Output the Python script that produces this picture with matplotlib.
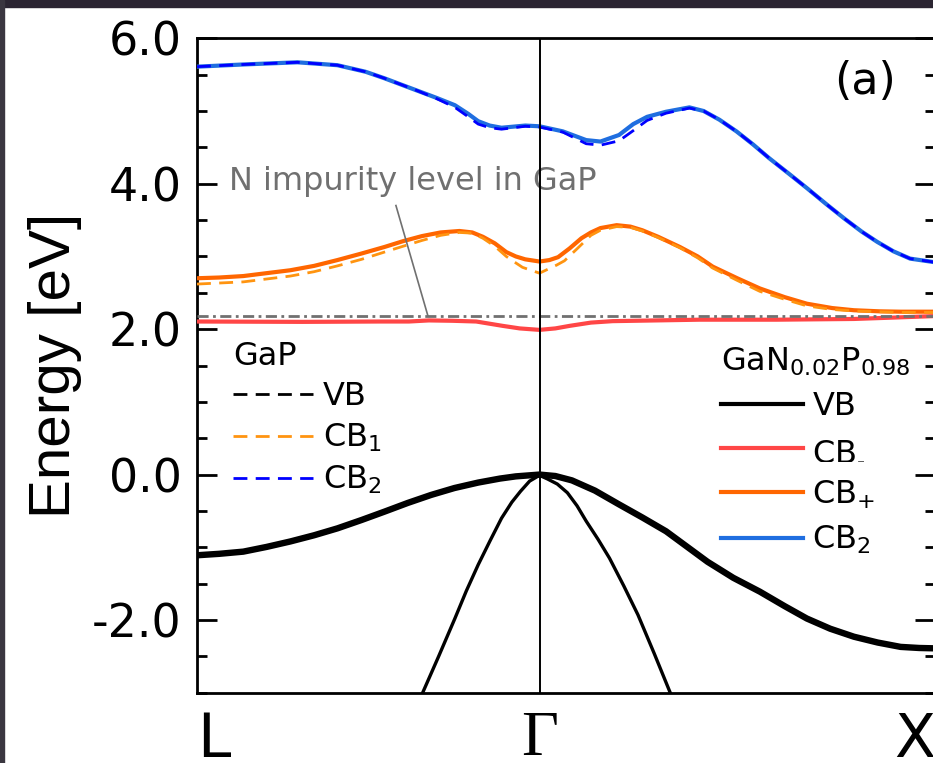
import matplotlib
matplotlib.use('Agg')
import matplotlib.pyplot as plt
from matplotlib.lines import Line2D
from matplotlib.patches import Rectangle
from matplotlib.ticker import MultipleLocator

plt.rcParams['font.family'] = ['DejaVu Sans']
plt.rcParams['axes.unicode_minus'] = False
plt.rcParams['mathtext.fontset'] = 'dejavusans'

# ---------------- data ----------------
kpoint_pos = [-0.866, 0.0, 1.0]
kpoint_labels = ['L', 'Γ', 'X']

yticks = [-2, 0, 2, 4, 6]
ytick_labels = ['-2.0', '0.0', '2.0', '4.0', '6.0']

# GaN0.02P0.98 bands (solid)
k_vb = [-0.866, -0.810, -0.749, -0.690, -0.630, -0.570, -0.511, -0.450, -0.392, -0.333,
        -0.274, -0.215, -0.155, -0.100, -0.060, 0.0,
        0.040, 0.082, 0.140, 0.201, 0.260, 0.320, 0.370, 0.425, 0.490, 0.557,
        0.620, 0.676, 0.735, 0.795, 0.855, 0.913, 0.960, 1.0]
e_vb = [-1.11, -1.09, -1.06, -0.995, -0.92, -0.835, -0.74, -0.625, -0.51, -0.39,
        -0.28, -0.185, -0.11, -0.055, -0.025, 0.0,
        -0.02, -0.08, -0.22, -0.41, -0.59, -0.78, -0.98, -1.20, -1.42, -1.61,
        -1.81, -1.98, -2.12, -2.23, -2.31, -2.37, -2.385, -2.39]

k_vb2 = [-0.297, -0.255, -0.214, -0.185, -0.155, -0.125, -0.096, -0.070, -0.048, -0.025, 0.0,
         0.020, 0.045, 0.0705, 0.095, 0.118, 0.148, 0.177, 0.213, 0.249, 0.290, 0.332]
e_vb2 = [-3.02, -2.50, -1.98, -1.60, -1.24, -0.91, -0.60, -0.38, -0.23, -0.09, -0.01,
         -0.06, -0.13, -0.25, -0.43, -0.64, -0.89, -1.15, -1.53, -1.93, -2.46, -3.02]

k_cbm = [-0.866, -0.600, -0.400, -0.330, -0.280, -0.220, -0.160, -0.093, -0.050, 0.0,
         0.040, 0.076, 0.130, 0.185, 0.405, 0.600, 0.795, 0.900, 1.0]
e_cbm = [2.105, 2.10, 2.105, 2.105, 2.12, 2.115, 2.105, 2.045, 2.01, 1.99,
         2.01, 2.045, 2.09, 2.11, 2.13, 2.13, 2.14, 2.16, 2.18]

k_cbp = [-0.866, -0.810, -0.749, -0.690, -0.630, -0.570, -0.511, -0.450, -0.392, -0.345,
         -0.297, -0.250, -0.2025, -0.170, -0.143, -0.113, -0.084, -0.060, -0.036, 0.0,
         0.025, 0.047, 0.076, 0.106, 0.130, 0.154, 0.195, 0.230, 0.260, 0.300,
         0.355, 0.400, 0.438, 0.500, 0.557, 0.620, 0.676, 0.740, 0.795, 0.860, 0.913, 1.0]
e_cbp = [2.70, 2.71, 2.73, 2.77, 2.81, 2.87, 2.95, 3.04, 3.13, 3.21,
         3.28, 3.33, 3.35, 3.33, 3.27, 3.18, 3.06, 3.00, 2.96, 2.93,
         2.95, 2.99, 3.11, 3.25, 3.33, 3.39, 3.43, 3.41, 3.36, 3.27,
         3.13, 3.00, 2.86, 2.70, 2.56, 2.44, 2.35, 2.29, 2.26, 2.245, 2.24, 2.24]

k_cb2 = [-0.866, -0.749, -0.612, -0.511, -0.440, -0.392, -0.309, -0.260, -0.214, -0.180,
         -0.155, -0.126, -0.096, -0.036, 0.0, 0.059, 0.118, 0.154, 0.201, 0.237,
         0.272, 0.320, 0.379, 0.415, 0.455, 0.498, 0.540, 0.581, 0.630, 0.676,
         0.725, 0.771, 0.815, 0.854, 0.895, 0.937, 1.0]
e_cb2 = [5.61, 5.64, 5.67, 5.63, 5.54, 5.45, 5.28, 5.18, 5.08, 4.96,
         4.86, 4.80, 4.77, 4.80, 4.79, 4.72, 4.60, 4.58, 4.67, 4.82,
         4.92, 4.99, 5.05, 5.00, 4.88, 4.72, 4.54, 4.35, 4.14, 3.94,
         3.72, 3.52, 3.34, 3.20, 3.07, 2.97, 2.92]

# GaP bands (dashed)
k_gap_vb = k_vb
e_gap_vb = e_vb

k_gap_cb1 = [-0.866, -0.749, -0.630, -0.570, -0.511, -0.450, -0.392, -0.345, -0.297, -0.250,
             -0.2025, -0.170, -0.143, -0.113, -0.084, -0.068, -0.043, 0.0, 0.043, 0.063,
             0.094, 0.130, 0.154, 0.195, 0.230, 0.260, 0.300, 0.355, 0.400, 0.438,
             0.500, 0.557, 0.620, 0.676, 0.740, 0.795, 0.913, 1.0]
e_gap_cb1 = [2.62, 2.65, 2.73, 2.79, 2.87, 2.96, 3.06, 3.14, 3.22, 3.29,
             3.33, 3.32, 3.25, 3.14, 3.00, 2.94, 2.85, 2.77, 2.88, 2.94,
             3.10, 3.29, 3.36, 3.41, 3.40, 3.35, 3.26, 3.12, 2.98, 2.84,
             2.67, 2.52, 2.41, 2.32, 2.27, 2.25, 2.23, 2.23]

k_gap_cb2 = k_cb2
e_gap_cb2 = [5.61, 5.64, 5.67, 5.63, 5.54, 5.45, 5.28, 5.17, 5.05, 4.92,
             4.82, 4.77, 4.75, 4.79, 4.78, 4.71, 4.55, 4.53, 4.59, 4.73,
             4.87, 4.97, 5.04, 5.00, 4.88, 4.72, 4.54, 4.35, 4.14, 3.94,
             3.72, 3.52, 3.34, 3.20, 3.07, 2.97, 2.92]

n_level = 2.18
k_leader = [-0.363, -0.282]
e_leader = [3.70, 2.18]
note_pos = (-0.784, 3.91)
panel_pos = (0.824, 5.41)

# ---------------- figure ----------------
W, H = 933, 763
fig = plt.figure(figsize=(W / 100, H / 100), dpi=100)
fig.patches.append(Rectangle((0, 1 - 7 / H), 1, 7 / H, transform=fig.transFigure,
                             color='#2b2532', zorder=0))
fig.patches.append(Rectangle((0, 0), 4 / W, 1, transform=fig.transFigure,
                             color='#3a3640', zorder=0))

ax = fig.add_axes([197 / W, (H - 692.7) / H, (935 - 197) / W, 654.4 / H])

c_red = '#ff4646'
c_orange = '#ff6600'
c_blue = '#1f6ee0'
c_orange_d = '#ff9410'
c_blue_d = '#0000ff'
c_gray = '#707070'
dash = (0, (5, 3))

ax.axhline(n_level, color=c_gray, lw=2.0, ls=(0, (4, 1.6, 1, 1.6)), zorder=4)
ax.plot(k_leader, e_leader, color=c_gray, lw=1.2, zorder=4)

ax.plot(k_vb, e_vb, color='black', lw=4.6, zorder=3, solid_joinstyle='round')
ax.plot(k_vb2, e_vb2, color='black', lw=2.4, zorder=3, solid_joinstyle='round')
ax.plot(k_gap_vb, e_gap_vb, color='black', lw=2.0, ls=dash, zorder=2)
ax.plot(k_cbm, e_cbm, color=c_red, lw=3.0, zorder=3, solid_joinstyle='round')
ax.plot(k_cbp, e_cbp, color=c_orange, lw=3.0, zorder=3, solid_joinstyle='round')
ax.plot(k_gap_cb1, e_gap_cb1, color=c_orange_d, lw=2.0, ls=dash, zorder=4)
ax.plot(k_cb2, e_cb2, color=c_blue, lw=3.0, zorder=3, solid_joinstyle='round')
ax.plot(k_gap_cb2, e_gap_cb2, color=c_blue_d, lw=2.0, ls=dash, zorder=4)

ax.axvline(kpoint_pos[1], color='black', lw=1.4, zorder=5)

ax.set_xlim(kpoint_pos[0], kpoint_pos[2])
ax.set_ylim(-3, 6)

ax.set_xticks(kpoint_pos)
ax.set_xticklabels(kpoint_labels, fontsize=43)
for lbl, ha in zip(ax.get_xticklabels(), ['left', 'center', 'right']):
    lbl.set_ha(ha)
ax.get_xticklabels()[1].set_family(['Liberation Serif', 'DejaVu Serif'])
ax.get_xticklabels()[1].set_fontsize(46)
ax.tick_params(axis='x', length=0, pad=13)

ax.set_yticks(yticks)
ax.set_yticklabels(ytick_labels, fontsize=33)
ax.yaxis.set_minor_locator(MultipleLocator(0.5))
ax.tick_params(axis='y', which='both', direction='in', left=True, right=True, width=2.0)
ax.tick_params(axis='y', which='major', length=14.4, pad=11)
ax.tick_params(axis='y', which='minor', length=7.2)
for s in ax.spines.values():
    s.set_linewidth(2.0)

ax.set_ylabel('Energy [eV]', fontsize=42, family=['Liberation Sans', 'DejaVu Sans'])
ax.yaxis.set_label_coords((82 - 197) / 738, 0.5)

ax.text(note_pos[0], note_pos[1], 'N impurity level in GaP', color=c_gray, fontsize=23,
        ha='left', va='baseline')
ax.text(panel_pos[0], panel_pos[1], '(a)', fontsize=32, ha='center', va='center')

# legends
gap_handles = [Line2D([], [], color='black', lw=2.0, ls=dash),
               Line2D([], [], color=c_orange_d, lw=2.0, ls=dash),
               Line2D([], [], color=c_blue_d, lw=2.0, ls=dash)]
gap_labels = ['VB', r'CB$_1$', r'CB$_2$']
leg1 = ax.legend(gap_handles, gap_labels, title='GaP', loc='upper left',
                 bbox_to_anchor=(0.049, 0.538), frameon=False, fontsize=23,
                 title_fontsize=23, borderpad=0, borderaxespad=0, handlelength=2.5,
                 handletextpad=0.3, labelspacing=0.3, alignment='left')
ax.add_artist(leg1)

gan_handles = [Line2D([], [], color='black', lw=3.0),
               Line2D([], [], color=c_red, lw=3.0),
               Line2D([], [], color=c_orange, lw=3.0),
               Line2D([], [], color=c_blue, lw=3.0)]
gan_labels = ['VB', r'CB$_{\text{-}}$', r'CB$_{\text{+}}$', r'CB$_2$']
leg2 = ax.legend(gan_handles, gan_labels, title=r'GaN$_{0.02}$P$_{0.98}$', loc='upper left',
                 bbox_to_anchor=(0.710, 0.530), frameon=False, fontsize=23,
                 title_fontsize=23, borderpad=0, borderaxespad=0, handlelength=2.56,
                 handletextpad=0.3, labelspacing=0.4, alignment='left')

fig.savefig('out.png', dpi=100)
